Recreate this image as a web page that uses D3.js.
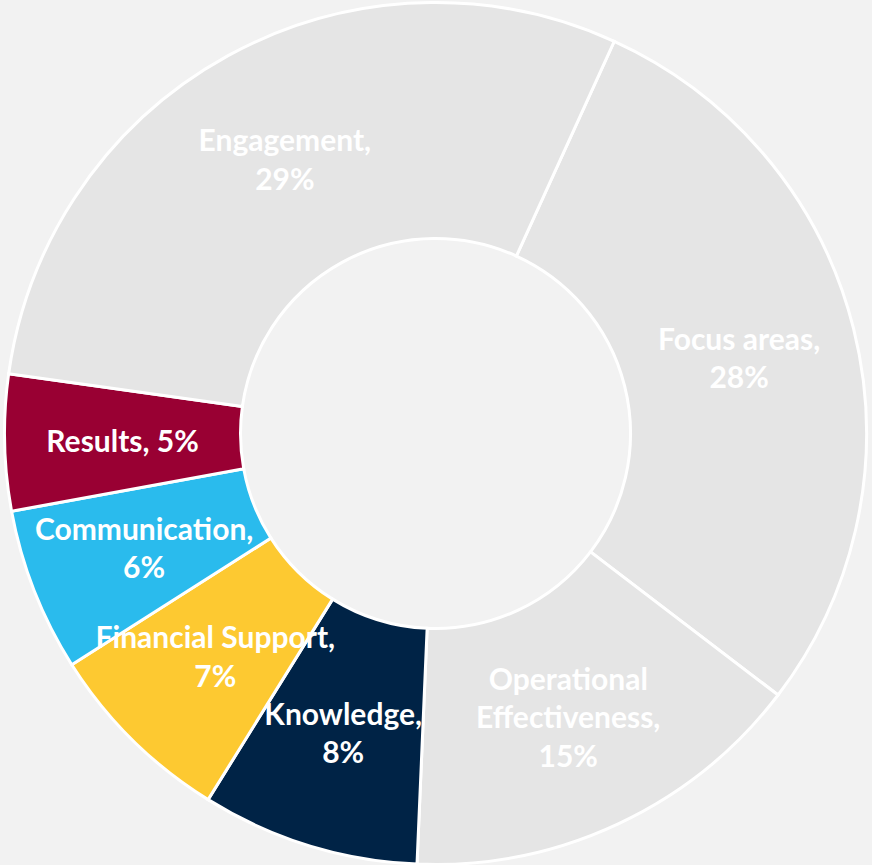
<!DOCTYPE html>
<html>
<head>
<meta charset="utf-8">
<script src="https://cdn.jsdelivr.net/npm/d3@7"></script>
<style>
  html, body { margin: 0; padding: 0; background: #f2f2f2; }
  svg { display: block; }
</style>
</head>
<body>
<div id="chart"></div>
<script>
// Data (order clockwise, starting with Focus areas)
const categories = ["Focus areas", "Operational Effectiveness", "Knowledge", "Financial Support", "Communication", "Results", "Engagement"];
const values = [0.28, 0.15, 0.08, 0.07, 0.06, 0.05, 0.29];
const labelLines = [
  ["Focus areas,", "28%"],
  ["Operational", "Effectiveness,", "15%"],
  ["Knowledge,", "8%"],
  ["Financial Support,", "7%"],
  ["Communication,", "6%"],
  ["Results, 5%"],
  ["Engagement,", "29%"]
];
const colors = ["#e5e5e5", "#e5e5e5", "#002346", "#fdc931", "#2abbed", "#990033", "#e5e5e5"];

const W = 872, H = 865;
const cx = 435.5, cy = 433.5;
const outerR = 431, innerR = 195;
const startDeg = 24.5;

const svg = d3.select("#chart").append("svg")
  .attr("width", W).attr("height", H);

svg.append("rect").attr("width", W).attr("height", H).attr("fill", "#f2f2f2");

const g = svg.append("g").attr("transform", `translate(${cx},${cy})`);

const data = categories.map((c, i) => ({ name: c, value: values[i], lines: labelLines[i], color: colors[i] }));

const pie = d3.pie().sort(null).value(d => d.value)
  .startAngle(startDeg * Math.PI / 180)
  .endAngle(startDeg * Math.PI / 180 + 2 * Math.PI);

const arc = d3.arc().innerRadius(innerR).outerRadius(outerR);

const arcs = pie(data);

g.selectAll("path.slice").data(arcs).join("path")
  .attr("class", "slice")
  .attr("d", arc)
  .attr("fill", d => d.data.color)
  .attr("stroke", "#ffffff")
  .attr("stroke-width", 3)
  .attr("stroke-linejoin", "miter");

const fontSize = 30;
const lineH = 38.5;
const labelArc = d3.arc().innerRadius((innerR + outerR) / 2).outerRadius((innerR + outerR) / 2);

const labels = g.selectAll("text.lbl").data(arcs).join("text")
  .attr("class", "lbl")
  .attr("text-anchor", "middle")
  .attr("fill", "#ffffff")
  .attr("font-family", "Lato, 'Open Sans', sans-serif")
  .attr("font-weight", "bold")
  .attr("font-size", fontSize)
  .attr("transform", d => `translate(${labelArc.centroid(d)})`);

labels.each(function(d) {
  const n = d.data.lines.length;
  d3.select(this).selectAll("tspan").data(d.data.lines).join("tspan")
    .attr("x", 0)
    .attr("y", (t, i) => (i - (n - 1) / 2) * lineH + fontSize * 0.38)
    .text(t => t);
});
</script>
</body>
</html>
